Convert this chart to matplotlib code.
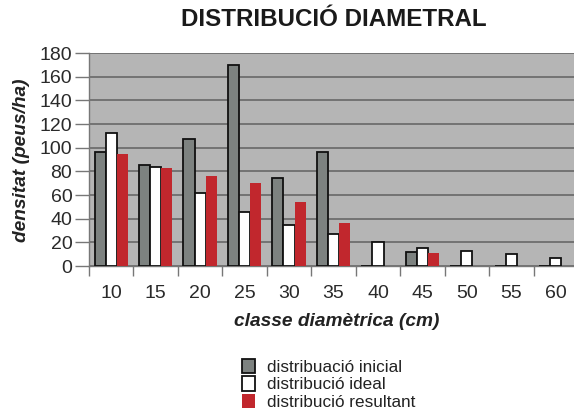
import matplotlib
matplotlib.use("Agg")
import matplotlib.pyplot as plt
import numpy as np

categories = ["10", "15", "20", "25", "30", "35", "40", "45", "50", "55", "60"]
inicial = [96, 85, 107, 170, 74, 96, 0, 12, 0, 0, 0]
ideal = [112, 84, 62, 46, 35, 27, 20, 15, 13, 10, 7]
resultant = [95, 83, 76, 70, 54, 36, 0, 11, 0, 0, 0]
series_labels = ["distribuació inicial", "distribució ideal", "distribució resultant"]
yticks = [0, 20, 40, 60, 80, 100, 120, 140, 160, 180]

plt.rcParams['font.family'] = ['Liberation Sans', 'DejaVu Sans']

W, H = 574, 419
fig = plt.figure(figsize=(W / 100, H / 100), dpi=100)
ax = fig.add_axes([89 / W, (H - 266) / H, 489 / W, 213 / H])
ax.set_facecolor('#b5b5b5')

x = np.arange(len(categories))
bw = 0.25
ax.bar(x - bw, inicial, bw, color='#7d8280', edgecolor='#111111', linewidth=1.3,
       label=series_labels[0], zorder=3)
ax.bar(x, ideal, bw, color='white', edgecolor='#111111', linewidth=1.3,
       label=series_labels[1], zorder=3)
ax.bar(x + bw, resultant, bw, color='#c1272d', edgecolor='none',
       label=series_labels[2], zorder=3)

ax.set_xlim(-0.5, len(categories) - 0.5)
ax.set_ylim(0, 180)
ax.set_yticks(yticks)
ax.yaxis.grid(True, color='#6e6e6e', linewidth=1.3, zorder=1)
ax.set_axisbelow(True)

ax.set_xticks(x)
ax.set_xticklabels(categories)
ax.set_xticks(np.arange(-0.5, len(categories) + 0.5, 1), minor=True)
ax.tick_params(axis='x', which='major', length=0, pad=14, labelsize=14, labelcolor='#2a2a2a')
ax.tick_params(axis='x', which='minor', length=7, width=1, color='#777777', direction='out')
ax.tick_params(axis='y', length=10, width=1, color='#777777', pad=2, labelsize=14,
               labelcolor='#2a2a2a')

for s in ['top', 'right']:
    ax.spines[s].set_visible(False)
ax.spines['left'].set_color('#777777')
ax.spines['bottom'].set_color('#777777')
ax.spines['left'].set_linewidth(1)
ax.spines['bottom'].set_linewidth(1)

fig.text(22 / W, 1 - 160 / H, 'densitat (peus/ha)', fontsize=13.8, fontweight='bold',
         fontstyle='italic', color='#222222', ha='center', va='center', rotation=90)
fig.text(337 / W, 1 - 322 / H, 'classe diamètrica (cm)', fontsize=13.8, fontweight='bold',
         fontstyle='italic', color='#222222', ha='center', va='center')
fig.text(334 / W, 1 - 20 / H, 'DISTRIBUCIÓ DIAMETRAL', fontsize=17.4, fontweight='bold',
         color='#1a1a1a', ha='center', va='center')

handles, labels = ax.get_legend_handles_labels()
leg = fig.legend(handles, labels, loc='upper left', bbox_to_anchor=(242 / W, 1 - 359 / H),
                 frameon=False, fontsize=12.3, handlelength=0.75, handleheight=0.9,
                 handletextpad=0.7, labelspacing=0.08, borderaxespad=0, borderpad=0)
for t in leg.get_texts():
    t.set_color('#222222')

fig.savefig('out.png', dpi=100)
